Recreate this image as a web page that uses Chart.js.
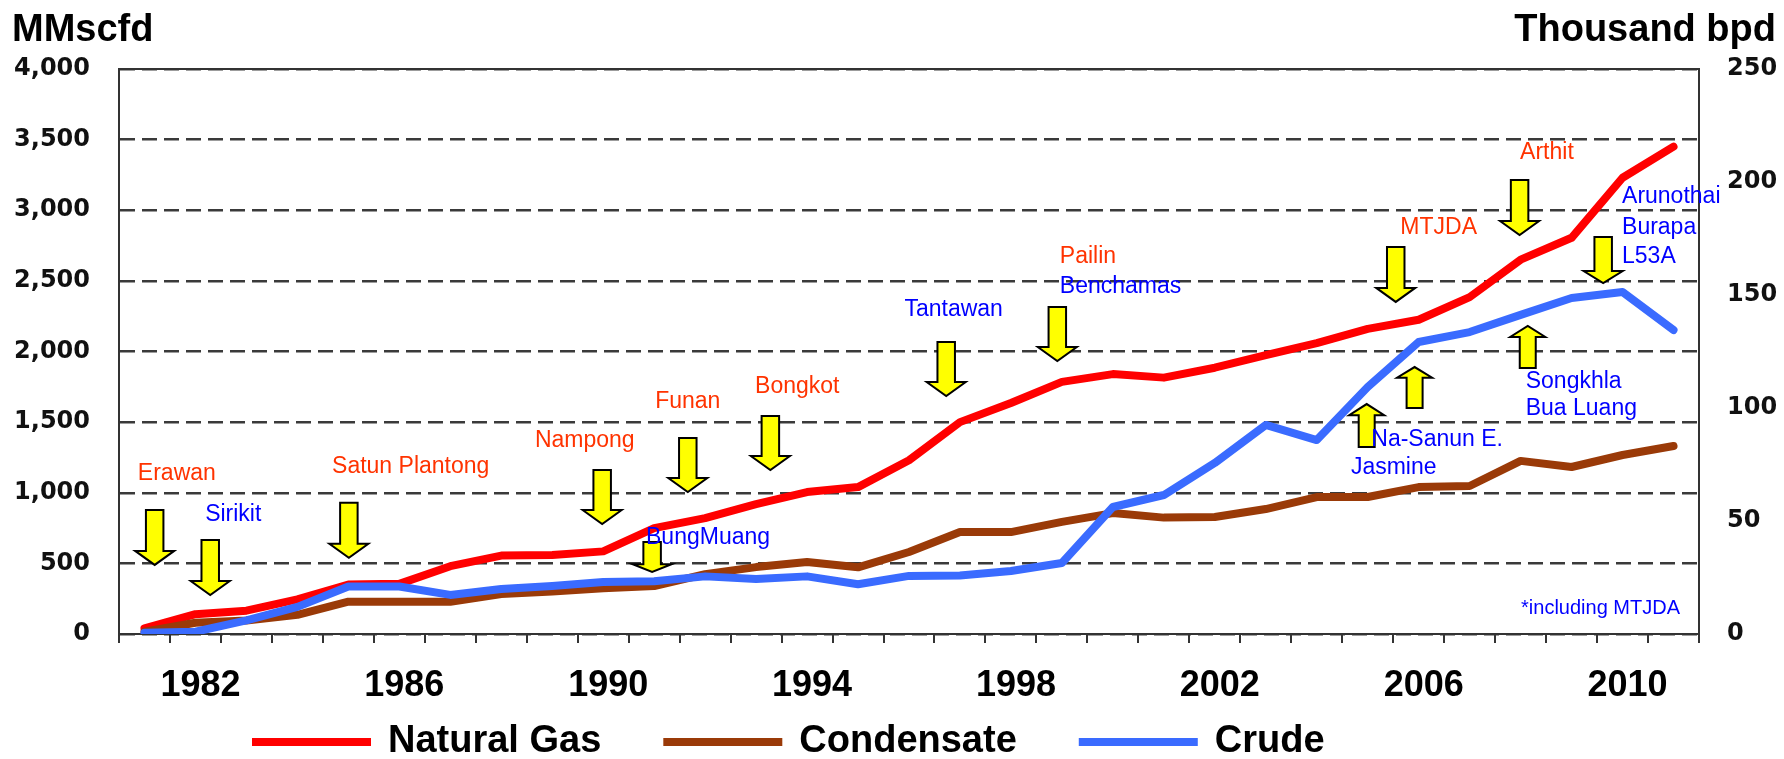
<!DOCTYPE html>
<html>
<head>
<meta charset="utf-8">
<script src="https://cdn.jsdelivr.net/npm/chart.js@4.4.0/dist/chart.umd.min.js"></script>
<style>
  html, body { margin: 0; padding: 0; background: #fff; }
  #wrap { width: 1784px; height: 759px; position: relative; }
</style>
</head>
<body>
<div id="wrap"><canvas id="prodChart"></canvas></div>
<script>
const years = ['1981', '1982', '1983', '1984', '1985', '1986', '1987', '1988', '1989', '1990',
    '1991', '1992', '1993', '1994', '1995', '1996', '1997', '1998', '1999', '2000',
    '2001', '2002', '2003', '2004', '2005', '2006', '2007', '2008', '2009', '2010', '2011'];

// MMscfd (left axis)
const naturalGas = [40, 140, 165, 245, 350, 355, 480, 555, 560, 585,
    750, 820, 920, 1005, 1040, 1230, 1500, 1635, 1785, 1840,
    1815, 1885, 1975, 2060, 2160, 2225, 2385, 2650, 2805, 3230, 3450];

// Thousand bpd (right axis)
const condensate = [1, 5, 6, 8.5, 14.3, 14.3, 14.3, 17.7, 18.8, 20.2,
    21.2, 26.5, 29.6, 31.9, 29.5, 36.3, 45.1, 45.1, 49.6, 53.5,
    51.5, 51.8, 55.3, 60.6, 60.6, 65, 65.5, 76.6, 73.9, 79.2, 83.2];
const crude = [0.5, 1, 6, 12, 21, 21, 17.3, 19.9, 21.2, 23,
    23.3, 25.5, 24.3, 25.5, 22, 25.7, 25.9, 27.9, 31.4, 56.2,
    61.5, 75.7, 92.5, 85.8, 109.3, 129.2, 133.6, 141.2, 148.7, 151.3, 134.5];

const labelYears = ['1982', '1986', '1990', '1994', '1998', '2002', '2006', '2010'];

// field start-ups: year + height on the MMscfd axis
const fieldNotes = [
    { text: 'Erawan', year: 1980.87, val: 1133, color: 'red' },
    { text: 'Sirikit', year: 1982.19, val: 843, color: 'blue' },
    { text: 'Satun Plantong', year: 1984.68, val: 1182, color: 'red' },
    { text: 'Nampong', year: 1988.66, val: 1366, color: 'red' },
    { text: 'Funan', year: 1991.02, val: 1643, color: 'red' },
    { text: 'Bongkot', year: 1992.98, val: 1749, color: 'red' },
    { text: 'BungMuang', year: 1990.84, val: 680, color: 'blue' },
    { text: 'Tantawan', year: 1995.91, val: 2294, color: 'blue' },
    { text: 'Pailin', year: 1998.96, val: 2669, color: 'red' },
    { text: 'Benchamas', year: 1998.96, val: 2457, color: 'blue' },
    { text: 'MTJDA', year: 2005.64, val: 2874, color: 'red' },
    { text: 'Arthit', year: 2007.99, val: 3405, color: 'red' },
    { text: 'Arunothai', year: 2009.99, val: 3094, color: 'blue' },
    { text: 'Burapa', year: 2009.99, val: 2874, color: 'blue' },
    { text: 'L53A', year: 2009.99, val: 2669, color: 'blue' },
    { text: 'Na-Sanun E.', year: 2005.07, val: 1374, color: 'blue' },
    { text: 'Jasmine', year: 2004.67, val: 1175, color: 'blue' },
    { text: 'Songkhla', year: 2008.10, val: 1784, color: 'blue' },
    { text: 'Bua Luang', year: 2008.10, val: 1593, color: 'blue' }
];

// arrows: tail value -> tip value
const fieldArrows = [
    { year: 1981.20, from: 878, to: 489 },
    { year: 1982.29, from: 666, to: 276 },
    { year: 1985.01, from: 930, to: 540 },
    { year: 1989.98, from: 1161, to: 779 },
    { year: 1991.66, from: 1388, to: 1005 },
    { year: 1993.28, from: 1543, to: 1161 },
    { year: 1990.96, from: 651, to: 439 },
    { year: 1996.73, from: 2067, to: 1685 },
    { year: 1998.91, from: 2315, to: 1933 },
    { year: 2005.55, from: 2740, to: 2351 },
    { year: 2007.98, from: 3214, to: 2825 },
    { year: 2009.62, from: 2811, to: 2485 },
    { year: 2004.98, from: 1324, to: 1628 },
    { year: 2005.92, from: 1600, to: 1890 },
    { year: 2008.14, from: 1883, to: 2181 }
];

const noteColors = { red: '#ff3300', blue: '#0000ff' };

function drawArrow(ctx, cx, tail, tip) {
    const len = Math.abs(tip - tail);
    const dir = tip > tail ? 1 : -1;
    const head = Math.min(14, len * 0.26);
    const down = dir > 0;
    const sw = down ? 17.5 : 16;
    const hw = down ? 39 : 35;
    const hb = tip - dir * head;
    ctx.beginPath();
    ctx.moveTo(cx - sw / 2, tail);
    ctx.lineTo(cx + sw / 2, tail);
    ctx.lineTo(cx + sw / 2, hb);
    ctx.lineTo(cx + hw / 2, hb);
    ctx.lineTo(cx, tip);
    ctx.lineTo(cx - hw / 2, hb);
    ctx.lineTo(cx - sw / 2, hb);
    ctx.closePath();
    ctx.fillStyle = '#ffff00';
    ctx.fill();
    ctx.strokeStyle = '#000';
    ctx.lineWidth = 2;
    ctx.stroke();
}

const overlay = {
    id: 'overlay',
    afterDraw(chart) {
        const ctx = chart.ctx;
        const xs = chart.scales.x;
        const ys = chart.scales.y;
        const area = chart.chartArea;
        const first = Number(years[0]);
        ctx.save();

        // top frame line
        ctx.strokeStyle = '#333';
        ctx.lineWidth = 2;
        ctx.beginPath();
        ctx.moveTo(area.left, area.top);
        ctx.lineTo(area.right, area.top);
        ctx.stroke();

        fieldArrows.forEach(a => {
            drawArrow(ctx, xs.getPixelForValue(a.year - first), ys.getPixelForValue(a.from), ys.getPixelForValue(a.to));
        });

        ctx.font = "23px 'Liberation Sans', Arial, sans-serif";
        ctx.textBaseline = 'middle';
        ctx.textAlign = 'left';
        fieldNotes.forEach(n => {
            ctx.fillStyle = noteColors[n.color];
            ctx.fillText(n.text, xs.getPixelForValue(n.year - first), ys.getPixelForValue(n.val));
        });

        ctx.font = "20px 'Liberation Sans', Arial, sans-serif";
        ctx.textAlign = 'right';
        ctx.fillStyle = '#0000ff';
        ctx.fillText('*including MTJDA', area.right - 19, ys.getPixelForValue(184));

        // unit titles
        ctx.font = "bold 38px 'Liberation Sans', Arial, sans-serif";
        ctx.fillStyle = '#000';
        ctx.textBaseline = 'alphabetic';
        ctx.textAlign = 'left';
        ctx.fillText('MMscfd', 12, 41);
        ctx.textAlign = 'right';
        ctx.fillText('Thousand bpd', 1776, 41);

        // legend
        let lx = 252;
        const ly = 742;
        ctx.textAlign = 'left';
        ctx.textBaseline = 'middle';
        chart.data.datasets.forEach(ds => {
            ctx.strokeStyle = ds.borderColor;
            ctx.lineWidth = 8;
            ctx.beginPath();
            ctx.moveTo(lx, ly);
            ctx.lineTo(lx + 119, ly);
            ctx.stroke();
            lx += 119 + 17;
            ctx.fillStyle = '#000';
            ctx.fillText(ds.label, lx, ly);
            lx += ctx.measureText(ds.label).width + 62;
        });
        ctx.restore();
    }
};

new Chart(document.getElementById('prodChart'), {
    type: 'line',
    data: {
        labels: years,
        datasets: [
            { label: 'Natural Gas', data: naturalGas, yAxisID: 'y', borderColor: '#ff0000', order: 2 },
            { label: 'Condensate', data: condensate, yAxisID: 'y1', borderColor: '#9a3a08', order: 1 },
            { label: 'Crude', data: crude, yAxisID: 'y1', borderColor: '#3a6bff', order: 0 }
        ]
    },
    options: {
        responsive: true,
        maintainAspectRatio: false,
        animation: false,
        layout: { padding: { top: 69, bottom: 50, left: 0, right: 0 } },
        elements: {
            line: { borderWidth: 8, tension: 0, borderCapStyle: 'round', borderJoinStyle: 'round', fill: false },
            point: { radius: 0 }
        },
        plugins: { legend: { display: false }, tooltip: { enabled: false } },
        scales: {
            x: {
                offset: true,
                grid: { offset: true, drawOnChartArea: false, drawTicks: true, tickLength: 9, color: '#333', lineWidth: 2 },
                border: { display: true, color: '#333', width: 2 },
                ticks: {
                    autoSkip: false, maxRotation: 0, padding: 21, labelOffset: 5, color: '#000',
                    font: { family: 'Liberation Sans', weight: 'bold', size: 36 },
                    callback: function(v) {
                        const l = this.getLabelForValue(v);
                        return labelYears.includes(l) ? l : '';
                    }
                },
                afterFit(s) { s.height = 75; }
            },
            y: {
                position: 'left', min: 0, max: 4000,
                ticks: {
                    stepSize: 500, padding: 29, color: '#111',
                    font: { family: 'DejaVu Sans', weight: 'bold', size: 24 },
                    callback: v => v.toLocaleString('en-US')
                },
                grid: { color: '#3a3a3a', lineWidth: 2.5, drawTicks: false },
                border: { display: true, color: '#333', width: 2, dash: [15, 7] },
                afterFit(s) { s.width = 119; }
            },
            y1: {
                position: 'right', min: 0, max: 250,
                ticks: {
                    stepSize: 50, padding: 28, color: '#111',
                    font: { family: 'DejaVu Sans', weight: 'bold', size: 24 }
                },
                grid: { display: false, drawTicks: false },
                border: { display: true, color: '#333', width: 2 },
                afterFit(s) { s.width = 85; }
            }
        }
    },
    plugins: [overlay]
});
</script>
</body>
</html>
